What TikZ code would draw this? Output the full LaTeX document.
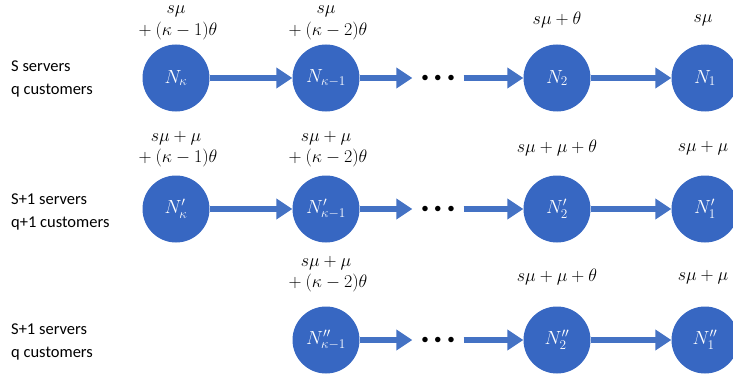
\RequirePackage{fix-cm}
\documentclass[tikz,border=0pt]{standalone}
\usepackage{amsmath}
\usepackage{fontspec}
\usepackage{xcolor}
\usepackage{tikz}
\usetikzlibrary{arrows.meta, positioning}
\newfontfamily\sidefont{Carlito}
\definecolor{cNode}{HTML}{3767C2}
\definecolor{cArrow}{HTML}{4472C4}

\begin{document}
\begin{tikzpicture}[
  x=1pt, y=1pt,
  state/.style={circle, fill=cNode, minimum size=67pt, inner sep=0pt, text=white, font=\fontsize{19}{21}\selectfont},
  rate/.style={align=center, font=\fontsize{18}{21.5}\selectfont, inner sep=0pt},
  side/.style={anchor=west, align=left, font=\sidefont\fontsize{16.5}{23}\selectfont, inner sep=0pt},
  dotsnode/.style={inner xsep=9pt, inner ysep=0pt, font=\fontsize{14}{14}\selectfont},
  ar/.style={-{Triangle[length=16pt, width=20pt]}, line width=5.5pt, draw=cArrow}
]
\path[use as bounding box, clip] (0,0) rectangle (733,373);

% Row 1: S servers, q customers
\node[side] (lab1) at (11,294) {S servers\\q customers};
\node[state] (Nk) at (176,295) {$N_{\kappa}$};
\node[state] (Nk1) at (326,295) {$N_{\kappa-1}$};
\node[dotsnode] (dots1) at (438,295) {${\bullet}\hspace{6pt}{\bullet}\hspace{6pt}{\bullet}$};
\node[state] (N2) at (557,295) {$N_2$};
\node[state] (N1) at (705,295) {$N_1$};
\node[rate] (rNk) at (176,350) {$s\mu$\\${}+(\kappa-1)\theta$};
\node[rate] (rNk1) at (326,350) {$s\mu$\\${}+(\kappa-2)\theta$};
\node[rate] (rN2) at (557,353) {$s\mu+\theta$};
\node[rate] (rN1) at (703,353) {$s\mu$};

\draw[ar] (Nk) -- (Nk1);
\draw[ar] (Nk1) -- (dots1);
\draw[ar] (dots1) -- (N2);
\draw[ar] (N2) -- (N1);

% Row 2: S+1 servers, q+1 customers
\node[side] (lab2) at (11,161) {S+1 servers\\q+1 customers};
\node[state] (Nkp) at (176,164) {$N'_{\kappa}$};
\node[state] (Nk1p) at (326,164) {$N'_{\kappa-1}$};
\node[dotsnode] (dots2) at (438,164) {${\bullet}\hspace{6pt}{\bullet}\hspace{6pt}{\bullet}$};
\node[state] (N2p) at (557,164) {$N'_2$};
\node[state] (N1p) at (705,164) {$N'_1$};
\node[rate] (rNkp) at (176,224) {$s\mu+\mu$\\${}+(\kappa-1)\theta$};
\node[rate] (rNk1p) at (326,224) {$s\mu+\mu$\\${}+(\kappa-2)\theta$};
\node[rate] (rN2p) at (557,225) {$s\mu+\mu+\theta$};
\node[rate] (rN1p) at (703,225) {$s\mu+\mu$};

\draw[ar] (Nkp) -- (Nk1p);
\draw[ar] (Nk1p) -- (dots2);
\draw[ar] (dots2) -- (N2p);
\draw[ar] (N2p) -- (N1p);

% Row 3: S+1 servers, q customers
\node[side] (lab3) at (11,31) {S+1 servers\\q customers};
\node[state] (Nk1pp) at (326,33) {$N''_{\kappa-1}$};
\node[dotsnode] (dots3) at (438,33) {${\bullet}\hspace{6pt}{\bullet}\hspace{6pt}{\bullet}$};
\node[state] (N2pp) at (557,33) {$N''_2$};
\node[state] (N1pp) at (705,33) {$N''_1$};
\node[rate] (rNk1pp) at (326,99) {$s\mu+\mu$\\${}+(\kappa-2)\theta$};
\node[rate] (rN2pp) at (557,96) {$s\mu+\mu+\theta$};
\node[rate] (rN1pp) at (703,96) {$s\mu+\mu$};

\draw[ar] (Nk1pp) -- (dots3);
\draw[ar] (dots3) -- (N2pp);
\draw[ar] (N2pp) -- (N1pp);
\end{tikzpicture}
\end{document}
